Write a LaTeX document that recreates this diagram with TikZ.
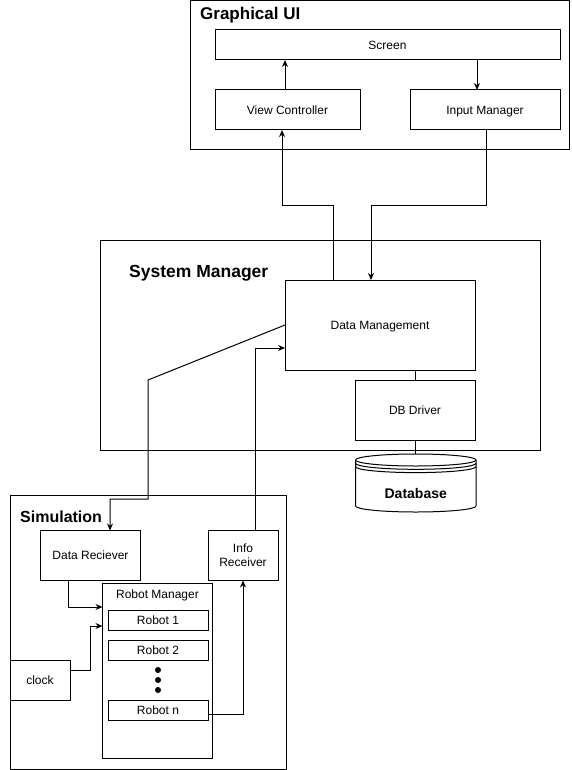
\documentclass[tikz,border=0pt]{standalone}
\usepackage{fontspec}
\setmainfont{Liberation Sans}
\usetikzlibrary{arrows.meta}
\begin{document}
\begin{tikzpicture}[x=1pt,y=-1pt,
  box/.style={draw, line width=1pt, rectangle, inner sep=0pt, outer sep=0pt, align=center, font=\fontsize{12}{14}\selectfont},
  one/.style={text height=10.4pt, text depth=1.8pt},
  ttl/.style={inner sep=0pt, anchor=base west, font=\bfseries\fontsize{17}{20}\selectfont},
  arr/.style={draw, line width=1pt, -{Stealth[length=7pt,width=6pt]}},
  link/.style={draw, line width=1pt},
  dot/.style={circle, fill=black, inner sep=0pt, minimum size=6pt}]
\useasboundingbox (0,0) rectangle (571,770);
\fill[white] (0,0) rectangle (571,770);

% Graphical UI
\node[box, minimum width=379pt, minimum height=149pt] (gui) at (379.5,75.5) {};
\node[ttl] (guit) at (200,20) {Graphical UI};
\node[box, one, minimum width=345pt, minimum height=30pt] (screen) at (387.5,45) {Screen};
\node[box, one, minimum width=145pt, minimum height=40pt] (vc) at (287.5,110) {View Controller};
\node[box, one, minimum width=150pt, minimum height=40pt] (im) at (485,110) {Input Manager};

% System Manager
\node[box, minimum width=440pt, minimum height=210pt] (sm) at (320.5,345) {};
\node[ttl, font=\bfseries\fontsize{17.5}{20}\selectfont] (smt) at (129,277) {System Manager};
\node[box, one, minimum width=190pt, minimum height=90pt] (dm) at (380,325) {Data Management};
\node[box, one, minimum width=120pt, minimum height=60pt] (dbd) at (415,410) {DB Driver};

% Database cylinder
\draw[link, fill=white] (355.5,460) -- (355.5,506) arc[start angle=180,end angle=360,x radius=60.25pt,y radius=6pt] -- (476,460);
\draw[link] (415.75,460) ellipse [x radius=60.25pt, y radius=6pt];
\draw[link] (355.5,463.3) arc[start angle=180,end angle=360,x radius=60.25pt,y radius=6pt];
\draw[link] (355.5,466.6) arc[start angle=180,end angle=360,x radius=60.25pt,y radius=6pt];
\node[inner sep=0pt, anchor=base, font=\bfseries\fontsize{14}{16}\selectfont] (db) at (415.75,498.5) {Database};
\coordinate (dbtop) at (415,454);

% Simulation
\node[box, minimum width=276pt, minimum height=274pt] (sim) at (148,632) {};
\node[ttl, font=\bfseries\fontsize{16}{19}\selectfont] (simt) at (20,522) {Simulation};
\node[box, one, minimum width=100pt, minimum height=50pt] (dr) at (90.5,555.5) {Data Reciever};
\node[box, minimum width=70pt, minimum height=50pt] (ir) at (243,555.5) {Info\\Receiver};
\node[box, minimum width=110pt, minimum height=175pt] (rm) at (157.5,670.5) {};
\node[inner sep=0pt, one, font=\fontsize{12}{14}\selectfont] (rmt) at (157.5,594) {Robot Manager};
\node[box, one, minimum width=100pt, minimum height=20pt] (r1) at (158,620) {Robot 1};
\node[box, one, minimum width=100pt, minimum height=20pt] (r2) at (158,650) {Robot 2};
\node[dot] (d1) at (158,670) {};
\node[dot] (d2) at (158,680) {};
\node[dot] (d3) at (158,690) {};
\node[box, one, minimum width=100pt, minimum height=20pt] (rn) at (158,710) {Robot n};
\node[box, one, minimum width=60pt, minimum height=40pt] (clk) at (40,680) {clock};

% connector waypoints
\coordinate (a1) at (285,0);
\coordinate (a2) at (477,0);
\coordinate (p1) at (333,205);
\coordinate (p2) at (282,205);
\coordinate (q1) at (486,205);
\coordinate (q2) at (371,205);
\coordinate (s0) at (0,325);
\coordinate (s1) at (148,380);
\coordinate (s2) at (148,499);
\coordinate (s3) at (110,499);
\coordinate (t1) at (255,348);
\coordinate (u1) at (68,607);
\coordinate (v1) at (90,670);
\coordinate (v2) at (90,626);
\coordinate (w1) at (243,714);
\coordinate (xd) at (415,0);

% connectors
\draw[arr] (vc.north -| a1) -- (screen.south -| a1);
\draw[arr] (screen.south -| a2) -- (im.north -| a2);
\draw[arr] (dm.north -| p1) -- (p1) -- (p2) -- (vc.south -| p2);
\draw[arr] (im.south -| q1) -- (q1) -- (q2) -- (dm.north -| q2);
\draw[arr] (dm.west |- s0) -- (s1) -- (s2) -- (s3) -- (dr.north -| s3);
\draw[arr] (ir.north -| t1) -- (t1) -- (dm.west |- t1);
\draw[arr] (dr.south -| u1) -- (u1) -- (rm.west |- u1);
\draw[arr] (clk.east |- v1) -- (v1) -- (v2) -- (rm.west |- v2);
\draw[arr] (rn.east |- w1) -- (w1) -- (ir.south -| w1);
\draw[link] (dm.south -| xd) -- (dbd.north -| xd);
\draw[link] (dbd.south -| xd) -- (dbtop);
\end{tikzpicture}
\end{document}
